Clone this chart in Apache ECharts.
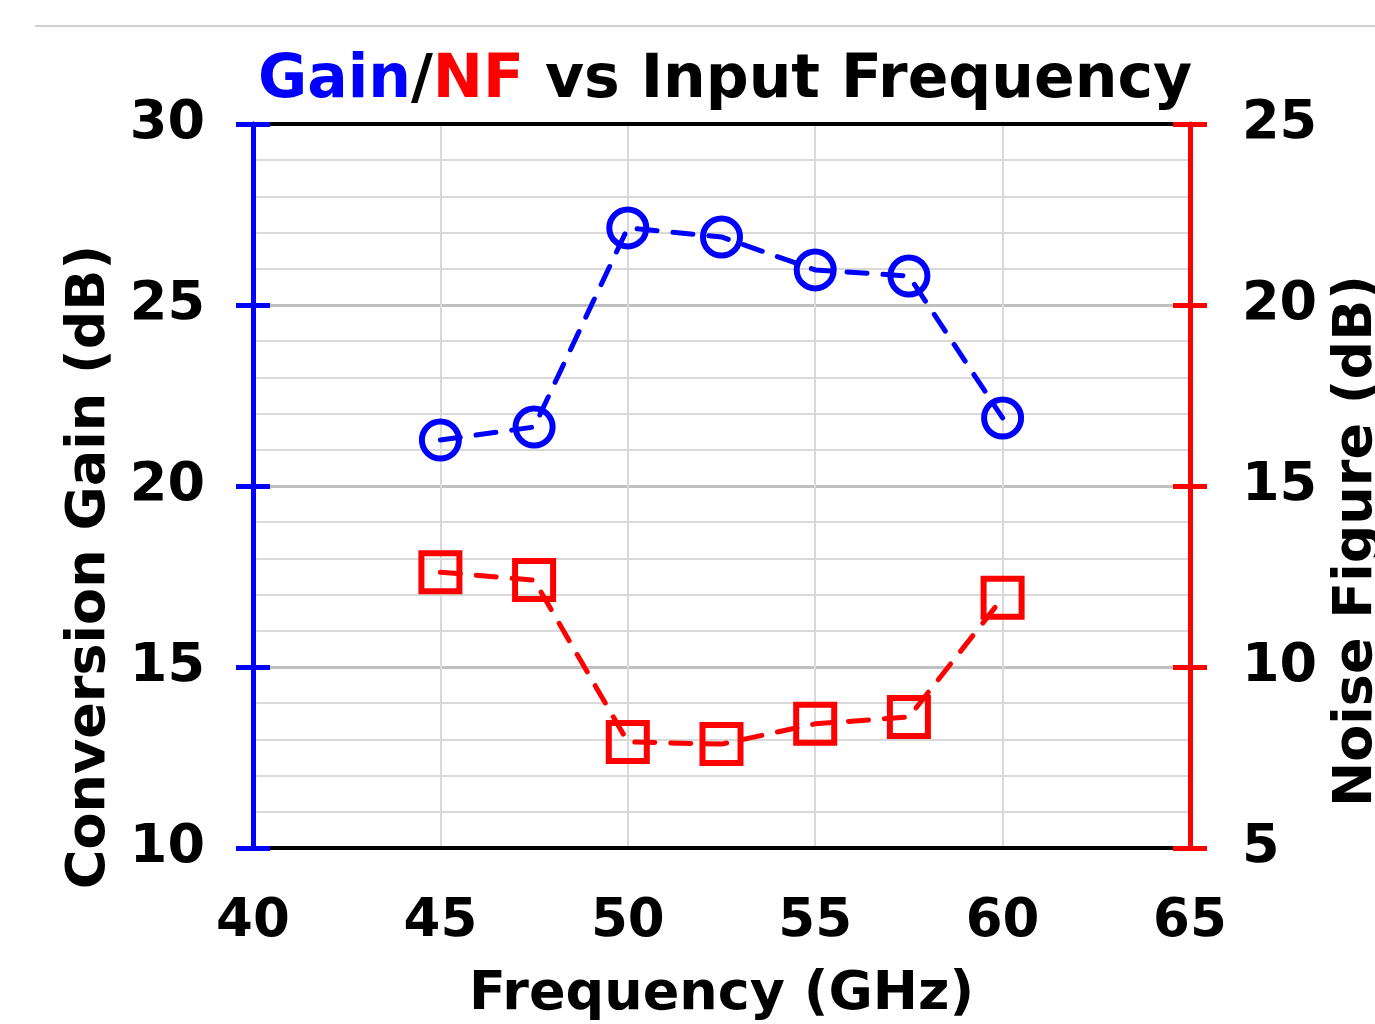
<!DOCTYPE html>
<html><head><meta charset="utf-8">
<script src="https://cdn.jsdelivr.net/npm/echarts@6/dist/echarts.min.js"></script>
<style>html,body{margin:0;padding:0;background:#fff;overflow:hidden}#c{width:1375px;height:1024px}</style>
</head><body><div id="c"></div>
<script>
const freqs = [45, 47.5, 50, 52.5, 55, 57.5, 60];
const gainDb = [21.27, 21.63, 27.13, 26.88, 25.97, 25.8, 21.88];
const nfDb = [12.62, 12.4, 7.93, 7.87, 8.43, 8.62, 11.91];
const FONT = 'DejaVu Sans';
const BLUE = '#0000ff', RED = '#ff0000';
const chart = echarts.init(document.getElementById('c'));
const lbl = {fontFamily: FONT, fontWeight: 'bold', fontSize: 53, color: '#000'};
chart.setOption({
  animation: false,
  backgroundColor: '#fff',
  title: {
    left: 720, top: 46, textAlign: 'center',
    text: '{b|Gain}{k|/}{r|NF}{k| vs Input Frequency}',
    textStyle: {
      rich: {
        b: {fontFamily: FONT, fontWeight: 'bold', fontSize: 60, color: BLUE},
        r: {fontFamily: FONT, fontWeight: 'bold', fontSize: 60, color: RED},
        k: {fontFamily: FONT, fontWeight: 'bold', fontSize: 60, color: '#000'}
      }
    }
  },
  graphic: [{type: 'line', shape: {x1: 35, y1: 26, x2: 1375, y2: 26}, style: {stroke: '#d0d0d0', lineWidth: 2}}],
  grid: {left: 253, right: 185, top: 124, bottom: 176, containLabel: false, outerBoundsMode: 'none'},
  xAxis: [{
    type: 'value', min: 40, max: 65, interval: 5, position: 'bottom',
    axisLine: {show: true, onZero: false, lineStyle: {color: '#000', width: 4}},
    axisTick: {show: false},
    axisLabel: Object.assign({margin: 48}, lbl),
    splitLine: {show: true, lineStyle: {color: '#d9d9d9', width: 2}},
    name: 'Frequency (GHz)', nameLocation: 'middle', nameGap: 120,
    nameTextStyle: {fontFamily: FONT, fontWeight: 'bold', fontSize: 54, color: '#000'}
  }, {
    type: 'value', min: 40, max: 65, interval: 5, position: 'top',
    axisLine: {show: true, onZero: false, lineStyle: {color: '#000', width: 4}},
    axisTick: {show: false}, axisLabel: {show: false}, splitLine: {show: false}
  }],
  yAxis: [{
    type: 'value', min: 10, max: 30, interval: 5, position: 'left',
    axisLine: {show: true, onZero: false, lineStyle: {color: BLUE, width: 5}},
    axisTick: {show: true, inside: false, length: 17, lineStyle: {color: BLUE, width: 5}},
    axisLabel: Object.assign({margin: 48}, lbl, {fontSize: 54}),
    splitLine: {show: true, lineStyle: {color: '#c0c0c0', width: 3}},
    minorTick: {show: false, splitNumber: 5},
    minorSplitLine: {show: true, lineStyle: {color: '#d9d9d9', width: 2}},
    name: 'Conversion Gain (dB)', nameLocation: 'middle', nameGap: 136,
    nameTextStyle: {fontFamily: FONT, fontWeight: 'bold', fontSize: 54, color: '#000', padding: [0, 162, 0, 0]}
  }, {
    type: 'value', min: 5, max: 25, interval: 5, position: 'right',
    axisLine: {show: true, onZero: false, lineStyle: {color: RED, width: 5}},
    axisTick: {show: true, inside: false, length: 17, lineStyle: {color: RED, width: 5}},
    axisLabel: Object.assign({margin: 52}, lbl, {fontSize: 54}),
    splitLine: {show: false},
    name: 'Noise Figure (dB)', nameLocation: 'middle', nameGap: 140,
    nameTextStyle: {fontFamily: FONT, fontWeight: 'bold', fontSize: 54, color: '#000', padding: [0, 110, 0, 0]}
  }, {
    type: 'value', min: 10, max: 30, interval: 5, position: 'left',
    axisLine: {show: false}, axisLabel: {show: false}, splitLine: {show: false},
    axisTick: {show: true, inside: true, length: 17, lineStyle: {color: BLUE, width: 5}}
  }, {
    type: 'value', min: 5, max: 25, interval: 5, position: 'right',
    axisLine: {show: false}, axisLabel: {show: false}, splitLine: {show: false},
    axisTick: {show: true, inside: true, length: 17, lineStyle: {color: RED, width: 5}}
  }],
  series: [{
    type: 'line', yAxisIndex: 0, xAxisIndex: 0,
    data: freqs.map((f, i) => [f, gainDb[i]]),
    symbol: 'circle', symbolSize: 37,
    lineStyle: {color: BLUE, width: 5, type: [20, 16], cap: 'round'},
    itemStyle: {color: 'rgba(0,0,0,0)', borderColor: BLUE, borderWidth: 6},
    z: 5
  }, {
    type: 'line', yAxisIndex: 1, xAxisIndex: 0,
    data: freqs.map((f, i) => [f, nfDb[i]]),
    symbol: 'rect', symbolSize: 38,
    lineStyle: {color: RED, width: 5, type: [20, 16], cap: 'round'},
    itemStyle: {color: 'rgba(0,0,0,0)', borderColor: RED, borderWidth: 6},
    z: 5
  }]
});
</script></body></html>
